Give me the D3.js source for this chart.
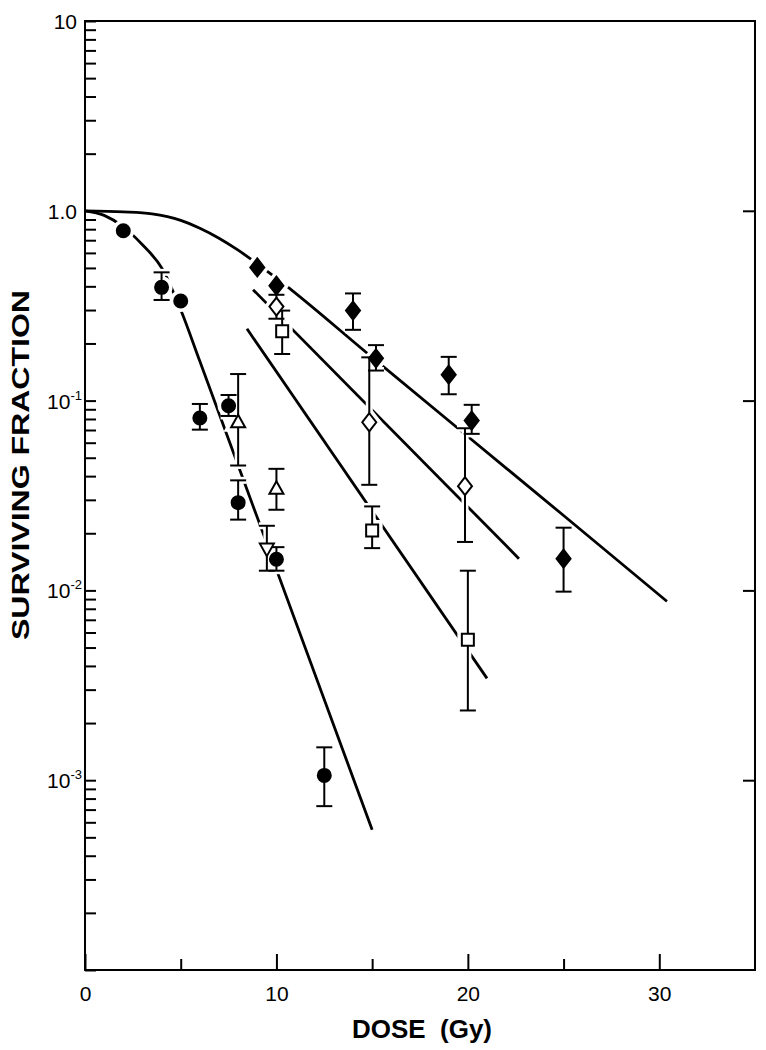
<!DOCTYPE html>
<html>
<head>
<meta charset="utf-8">
<script src="https://cdn.jsdelivr.net/npm/d3@7"></script>
<style>
  body { margin: 0; background: #fff; }
  svg { display: block; }
</style>
</head>
<body>
<div id="chart"></div>
<script>
// values (dose in Gy, surviving fraction)

// filled circles
var circleDose = [2, 4, 5, 6, 7.5, 8, 10, 12.5];
var circleSF   = [0.785, 0.395, 0.335, 0.081, 0.094, 0.029, 0.0146, 0.00106];
var circleLo   = [null, 0.339, null, 0.0703, 0.083, 0.0236, 0.0127, 0.00073];
var circleHi   = [null, 0.474, null, 0.096, 0.107, 0.038, 0.0169, 0.00149];

// open triangles (up)
var triUpDose = [8, 10];
var triUpSF   = [0.0769, 0.0343];
var triUpLo   = [0.0455, 0.0266];
var triUpHi   = [0.138, 0.0437];

// open triangle (down)
var triDownDose = [9.5];
var triDownSF   = [0.0166];
var triDownLo   = [0.0127];
var triDownHi   = [0.0219];

// filled diamonds
var fdiaDose = [9, 10, 14, 15.2, 19, 20.2, 25];
var fdiaSF   = [0.503, 0.403, 0.298, 0.167, 0.137, 0.0785, 0.0147];
var fdiaLo   = [null, null, 0.236, 0.144, 0.108, 0.0668, 0.00985];
var fdiaHi   = [null, null, 0.367, 0.196, 0.17, 0.095, 0.0214];

// open diamonds
var odiaDose = [10, 14.85, 19.85];
var odiaSF   = [0.313, 0.0769, 0.0354];
var odiaLo   = [0.27, 0.036, 0.018];
var odiaHi   = [0.361, 0.169, 0.0715];

// open squares
var sqDose = [10.3, 15, 20];
var sqSF   = [0.232, 0.0207, 0.0055];
var sqLo   = [0.176, 0.0167, 0.00233];
var sqHi   = [0.298, 0.0277, 0.0127];

// fitted curves
var curveADose = [0, 1, 2, 3, 4, 5, 6, 15];
var curveASF   = [1.0, 0.946, 0.824, 0.662, 0.501, 0.301, 0.161, 0.000548];
var curveBDose = [0, 2, 3.5, 5, 6, 7, 8, 9, 10, 15, 20, 25, 30.4];
var curveBSF   = [1.0, 0.988, 0.964, 0.891, 0.809, 0.717, 0.62, 0.526, 0.442, 0.169, 0.0647, 0.0248, 0.00876];
var curveCDose = [8.78, 22.67];
var curveCSF   = [0.384, 0.0147];
var curveDDose = [8.46, 21.0];
var curveDSF   = [0.239, 0.00344];

// axis ticks / labels
var xMajor = [0, 10, 20, 30];
var xMinor = [5, 15, 25];
var yDecades = [10, 1, 0.1, 0.01, 0.001];
var yLabelBase = ["10", "1.0", "10", "10", "10"];
var yLabelExp  = ["", "", "-1", "-2", "-3"];

// ---------------------------------------------------------------

var W = 766, H = 1050;
// plot box (note: "top" is reserved on window, so use a margin object)
var box = { left: 85, right: 755, top: 21, bottom: 970 };

var x = d3.scaleLinear().domain([0, 35]).range([box.left, box.right]);
var y = d3.scaleLog().domain([1e-4, 10]).range([box.bottom, box.top]);

var svg = d3.select("#chart").append("svg")
  .attr("width", W)
  .attr("height", H)
  .style("background-color", "white");

var font = "'Liberation Sans', Arial, sans-serif";

// minor ticks for every decade
var yTicks = [];
[1e-4, 1e-3, 1e-2, 1e-1, 1].forEach(function(d) {
  for (var k = 1; k < 10; k++) yTicks.push(d * k);
});
yTicks.push(10);

// left axis (ticks pointing inward)
var yAxisL = svg.append("g")
  .attr("transform", "translate(" + box.left + ",0)")
  .call(d3.axisLeft(y).tickValues(yTicks).tickSizeInner(-11).tickSizeOuter(0).tickFormat(""));

// right axis, decades only
var yAxisR = svg.append("g")
  .attr("transform", "translate(" + box.right + ",0)")
  .call(d3.axisRight(y).tickValues([1e-3, 1e-2, 1e-1, 1]).tickSizeInner(-12).tickSizeOuter(0).tickFormat(""));

// bottom axis: long major ticks, short minor ticks
var xAxisMajor = svg.append("g")
  .attr("transform", "translate(0," + box.bottom + ")")
  .call(d3.axisBottom(x).tickValues(xMajor).tickSizeInner(-16).tickSizeOuter(0).tickPadding(16)
    .tickFormat(d3.format("d")));
var xAxisMinor = svg.append("g")
  .attr("transform", "translate(0," + box.bottom + ")")
  .call(d3.axisBottom(x).tickValues(xMinor).tickSizeInner(-11).tickSizeOuter(0).tickFormat(""));

[yAxisL, yAxisR, xAxisMajor, xAxisMinor].forEach(function(g) {
  g.select(".domain").remove();
  g.selectAll(".tick line").attr("stroke", "#000").attr("stroke-width", 2);
});
xAxisMajor.attr("font-family", font).attr("font-size", 21);
xAxisMajor.selectAll(".tick text").attr("fill", "#000");

// frame
svg.append("rect")
  .attr("x", box.left)
  .attr("y", box.top)
  .attr("width", box.right - box.left)
  .attr("height", box.bottom - box.top)
  .attr("fill", "none")
  .attr("stroke", "#000")
  .attr("stroke-width", 2);

// y decade labels with superscripts
yDecades.forEach(function(v, i) {
  var t = svg.append("text")
    .attr("x", yLabelExp[i] ? 82 : 77)
    .attr("y", y(v) + 8)
    .attr("text-anchor", "end")
    .attr("font-family", font)
    .attr("font-size", 21)
    .attr("fill", "#000");
  t.append("tspan").text(yLabelBase[i]);
  if (yLabelExp[i]) {
    t.append("tspan")
      .attr("font-size", 13)
      .attr("dy", -9)
      .text(yLabelExp[i]);
  }
});

// axis titles
svg.append("text")
  .attr("x", 422)
  .attr("y", 1038)
  .attr("text-anchor", "middle")
  .attr("font-family", font)
  .attr("font-weight", "bold")
  .attr("font-size", 26)
  .attr("textLength", 140)
  .attr("lengthAdjust", "spacingAndGlyphs")
  .attr("xml:space", "preserve")
  .text("DOSE  (Gy)");

svg.append("text")
  .attr("transform", "translate(29,465) rotate(-90)")
  .attr("text-anchor", "middle")
  .attr("font-family", font)
  .attr("font-weight", "bold")
  .attr("font-size", 24)
  .attr("textLength", 350)
  .attr("lengthAdjust", "spacingAndGlyphs")
  .text("SURVIVING FRACTION");

// fitted curves
function zip(ds, ss) {
  return ds.map(function(d, i) { return [d, ss[i]]; });
}
var line = d3.line()
  .x(function(d) { return x(d[0]); })
  .y(function(d) { return y(d[1]); })
  .curve(d3.curveMonotoneX);

var curves = [
  zip(curveADose, curveASF),
  zip(curveBDose, curveBSF),
  zip(curveCDose, curveCSF),
  zip(curveDDose, curveDSF)
];
svg.append("g").selectAll("path")
  .data(curves)
  .enter().append("path")
  .attr("d", line)
  .attr("fill", "none")
  .attr("stroke", "#000")
  .attr("stroke-width", 2.8)
  .attr("stroke-linecap", "butt");

// point series
function pts(ds, ss, lo, hi) {
  return ds.map(function(d, i) {
    return { dose: d, sf: ss[i], lo: lo[i], hi: hi[i] };
  });
}
var shapes = {
  circle: d3.symbol(d3.symbolCircle, Math.PI * 6.5 * 6.5)(),
  diamond: "M0,-9L7,0L0,9L-7,0Z",
  square: "M-6,-6H6V6H-6Z",
  triUp: "M0,-7.5L7,5L-7,5Z",
  triDown: "M0,7.5L7,-5L-7,-5Z"
};
var series = [
  { data: pts(circleDose, circleSF, circleLo, circleHi), shape: "circle", filled: true },
  { data: pts(triUpDose, triUpSF, triUpLo, triUpHi), shape: "triUp", filled: false },
  { data: pts(triDownDose, triDownSF, triDownLo, triDownHi), shape: "triDown", filled: false },
  { data: pts(fdiaDose, fdiaSF, fdiaLo, fdiaHi), shape: "diamond", filled: true },
  { data: pts(odiaDose, odiaSF, odiaLo, odiaHi), shape: "diamond", filled: false },
  { data: pts(sqDose, sqSF, sqLo, sqHi), shape: "square", filled: false }
];

var cap = 8;
function drawBars(g, color, width) {
  series.forEach(function(s) {
    s.data.filter(function(d) { return d.lo != null; }).forEach(function(d) {
      var cx = x(d.dose);
      g.append("line")
        .attr("x1", cx).attr("x2", cx)
        .attr("y1", y(d.hi)).attr("y2", y(d.lo));
      g.append("line")
        .attr("x1", cx - cap).attr("x2", cx + cap)
        .attr("y1", y(d.hi)).attr("y2", y(d.hi));
      g.append("line")
        .attr("x1", cx - cap).attr("x2", cx + cap)
        .attr("y1", y(d.lo)).attr("y2", y(d.lo));
    });
  });
  g.selectAll("line").attr("stroke", color).attr("stroke-width", width);
}
function drawMarks(g, halo) {
  series.forEach(function(s) {
    g.selectAll(null)
      .data(s.data)
      .enter().append("path")
      .attr("transform", function(d) { return "translate(" + x(d.dose) + "," + y(d.sf) + ")"; })
      .attr("d", shapes[s.shape])
      .attr("fill", halo ? "#fff" : (s.filled ? "#000" : "#fff"))
      .attr("stroke", halo ? "#fff" : "#000")
      .attr("stroke-width", halo ? 9 : 2)
      .attr("stroke-linejoin", "miter");
  });
}

// white halos break the curves where they pass the symbols
drawBars(svg.append("g"), "#fff", 7);
drawMarks(svg.append("g"), true);
// error bars and symbols
drawBars(svg.append("g"), "#000", 2);
drawMarks(svg.append("g"), false);
</script>
</body>
</html>
